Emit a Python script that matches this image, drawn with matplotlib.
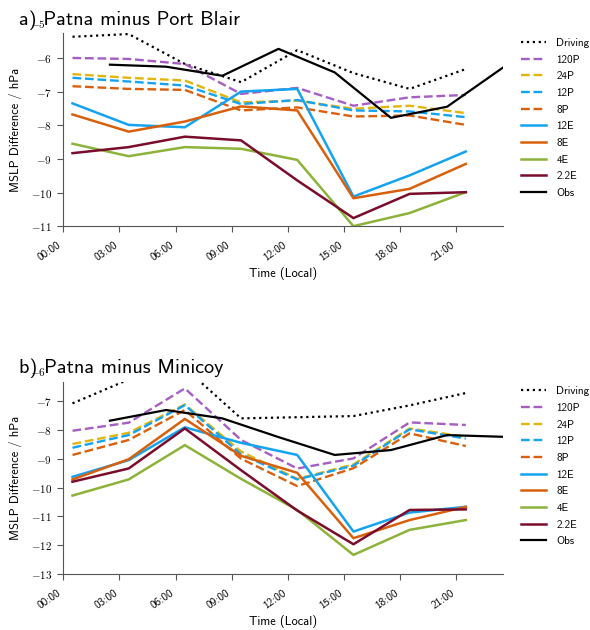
import matplotlib
matplotlib.use('Agg')
import matplotlib.pyplot as plt

plt.rcParams['font.family'] = ['cmss10', 'DejaVu Sans']
plt.rcParams['mathtext.fontset'] = 'cm'
plt.rcParams['axes.unicode_minus'] = False

# hours (local time) of model output and of observations
model_hours = [0.5, 3.5, 6.5, 9.5, 12.5, 15.5, 18.5, 21.5]
obs_hours = [2.5, 5.5, 8.5, 11.5, 14.5, 17.5, 20.5, 23.5]

tick_hours = [0, 3, 6, 9, 12, 15, 18, 21]
tick_labels = ['00:00', '03:00', '06:00', '09:00', '12:00', '15:00', '18:00', '21:00']

# a) Patna minus Port Blair
a_driving = [-5.37, -5.29, -6.18, -6.72, -5.77, -6.45, -6.92, -6.33]
a_120P = [-6.00, -6.03, -6.18, -7.07, -6.89, -7.42, -7.17, -7.10]
a_24P = [-6.48, -6.59, -6.67, -7.32, -7.27, -7.51, -7.42, -7.64]
a_12P = [-6.59, -6.70, -6.82, -7.37, -7.25, -7.56, -7.59, -7.76]
a_8P = [-6.84, -6.92, -6.95, -7.56, -7.47, -7.74, -7.71, -7.99]
a_12E = [-7.35, -7.99, -8.06, -7.00, -6.92, -10.12, -9.49, -8.78]
a_8E = [-7.68, -8.19, -7.89, -7.44, -7.56, -10.17, -9.89, -9.15]
a_4E = [-8.55, -8.92, -8.65, -8.70, -9.03, -11.00, -10.61, -9.99]
a_22E = [-8.83, -8.65, -8.34, -8.45, -9.64, -10.76, -10.04, -9.99]
a_obs = [-6.20, -6.26, -6.53, -5.73, -6.43, -7.78, -7.45, -6.28]

# b) Patna minus Minicoy
b_driving = [-7.08, -6.25, -5.85, -7.60, -7.56, -7.52, -7.15, -6.72]
b_120P = [-8.03, -7.75, -6.56, -8.35, -9.34, -8.99, -7.74, -7.83]
b_24P = [-8.49, -8.10, -7.12, -8.75, -9.70, -9.20, -7.95, -8.24]
b_12P = [-8.62, -8.18, -7.14, -8.85, -9.72, -9.24, -7.98, -8.30]
b_8P = [-8.87, -8.35, -7.31, -9.00, -9.95, -9.33, -8.12, -8.56]
b_12E = [-9.63, -9.05, -7.91, -8.45, -8.87, -11.53, -10.87, -10.67]
b_8E = [-9.72, -9.02, -7.62, -8.90, -9.49, -11.76, -11.13, -10.67]
b_4E = [-10.28, -9.72, -8.53, -9.70, -10.78, -12.34, -11.47, -11.13]
b_22E = [-9.80, -9.34, -7.95, -9.40, -10.80, -11.97, -10.78, -10.76]
b_obs = [-7.68, -7.31, -7.60, -8.25, -8.87, -8.70, -8.18, -8.24]

purple = '#a65ec4'
yellow = '#e3b50c'
blue = '#14a3f0'
orange = '#d8600c'
green = '#8db33a'
maroon = '#7a0c2c'


def draw_panel(ax, title, series, obs, yticks, ylim, extra_tick):
    driving, p120, p24, p12, p8, e12, e8, e4, e22 = series
    ax.plot(model_hours, driving, ':', color='black', lw=1.6, label='Driving')
    ax.plot(model_hours, p120, '--', color=purple, lw=1.7, label='120P')
    ax.plot(model_hours, p24, '--', color=yellow, lw=1.7, label='24P')
    ax.plot(model_hours, p12, '--', color=blue, lw=1.7, label='12P')
    ax.plot(model_hours, p8, '--', color=orange, lw=1.7, label='8P')
    ax.plot(model_hours, e12, '-', color=blue, lw=1.8, label='12E')
    ax.plot(model_hours, e8, '-', color=orange, lw=1.8, label='8E')
    ax.plot(model_hours, e4, '-', color=green, lw=1.8, label='4E')
    ax.plot(model_hours, e22, '-', color=maroon, lw=1.8, label='2.2E')
    ax.plot(obs_hours, obs, '-', color='black', lw=1.6, label='Obs')

    ax.set_xlim(0, 23.5)
    ax.set_ylim(*ylim)
    ax.set_xticks(tick_hours)
    ax.set_xticklabels(tick_labels, rotation=35, ha='right', fontsize=8)
    ax.set_yticks(yticks)
    ax.set_yticklabels(['$%d$' % v for v in yticks], fontsize=8)
    # the top tick label sits just above the axes box in the original
    ax.text(-0.95, extra_tick, '$%d$' % extra_tick, fontsize=8, ha='right',
            va='center', clip_on=False)

    for side in ['top', 'right']:
        ax.spines[side].set_visible(False)
    for side in ['left', 'bottom']:
        ax.spines[side].set_color('#555555')
    ax.tick_params(direction='out', length=4, color='#555555')
    ax.tick_params(axis='y', pad=4)
    ax.tick_params(axis='x', pad=6)

    ax.set_xlabel('Time (Local)', fontsize=9, labelpad=3)
    ax.set_ylabel('MSLP Difference / hPa', fontsize=9, labelpad=6)
    ax.set_title(title, fontsize=14.5, loc='left', x=-0.1, pad=6)
    ax.legend(loc='upper left', bbox_to_anchor=(1.03, 1.0), frameon=False,
              fontsize=8, handlelength=2.3, labelspacing=0.6,
              handletextpad=0.9, borderaxespad=0)


fig = plt.figure(figsize=(5.9, 6.3), dpi=100)
ax_a = fig.add_axes([0.107, 0.641, 0.746, 0.306])
ax_b = fig.add_axes([0.107, 0.089, 0.746, 0.305])

draw_panel(ax_a, 'a) Patna minus Port Blair',
           [a_driving, a_120P, a_24P, a_12P, a_8P, a_12E, a_8E, a_4E, a_22E],
           a_obs, [-11, -10, -9, -8, -7, -6], (-11, -5.27), -5)
draw_panel(ax_b, 'b) Patna minus Minicoy',
           [b_driving, b_120P, b_24P, b_12P, b_8P, b_12E, b_8E, b_4E, b_22E],
           b_obs, [-13, -12, -11, -10, -9, -8, -7], (-13, -6.33), -6)

fig.savefig('out.png', dpi=100)
